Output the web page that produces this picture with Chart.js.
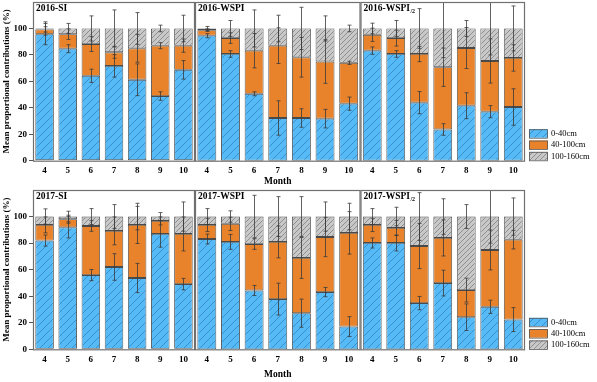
<!DOCTYPE html>
<html><head><meta charset="utf-8">
<script src="https://cdn.jsdelivr.net/npm/chart.js@4.4.0/dist/chart.umd.min.js"></script>
<style>
html,body{margin:0;padding:0;background:#fff;}
#wrap{position:relative;width:597px;height:382px;overflow:hidden;background:#fff;}
canvas{position:absolute;left:0;}
</style></head><body><div id="wrap">
<canvas id="c1" width="597" height="195" style="top:0"></canvas>
<canvas id="c2" width="597" height="195" style="top:0"></canvas>
<canvas id="c3" width="597" height="195" style="top:0"></canvas>
<canvas id="c4" width="597" height="194" style="top:188px"></canvas>
<canvas id="c5" width="597" height="194" style="top:188px"></canvas>
<canvas id="c6" width="597" height="194" style="top:188px"></canvas>
</div>
<script>
const months = ['4','5','6','7','8','9','10'];
const layerNames = ['0-40cm','40-100cm','100-160cm'];
const yTitle = 'Mean proportional contributions (%)';
const xTitle = 'Month';

// 2016-SI
const si2016_0_40    = [95.7, 84.7, 64.2, 71.7, 61.2, 48.9, 68.7];
const si2016_40_100  = [3.6, 11.0, 24.0, 10.3, 23.8, 38.1, 18.3];
const si2016_100_160 = [0.7, 4.3, 11.8, 18.0, 15.0, 13.0, 13.0];
const si2016_err_0_40    = [8, 3, 5, 8.5, 12, 3.2, 7];
const si2016_err_40_100  = [2, 4, 5.6, 4.5, 10.5, 2.3, 5];
const si2016_err_100_160 = [5, 3.8, 9.5, 14, 12, 2.5, 10];

// 2016-WSPI
const wspi2016_0_40    = [94.5, 80.7, 50.6, 32.3, 32.3, 31.8, 43.1];
const wspi2016_40_100  = [4.2, 12.0, 32.6, 54.7, 45.9, 43.2, 30.9];
const wspi2016_100_160 = [1.3, 7.3, 16.8, 13.0, 21.8, 25.0, 26.0];
const wspi2016_err_0_40    = [1.5, 2.5, 1.5, 13, 7, 7, 5];
const wspi2016_err_40_100  = [1, 4, 13, 13.5, 15, 16.5, 1.2];
const wspi2016_err_100_160 = [1.5, 6, 14, 10, 16, 9.5, 2.5];

// 2016-WSPI/2
const wspiHalf2016_0_40    = [83.2, 80.7, 43.9, 23.6, 41.6, 37.1, 40.6];
const wspiHalf2016_40_100  = [12.0, 12.0, 36.8, 47.1, 43.6, 38.3, 37.1];
const wspiHalf2016_100_160 = [4.8, 7.3, 19.3, 29.3, 14.8, 24.6, 22.3];
const wspiHalf2016_err_0_40    = [2.8, 2.5, 8.4, 4.4, 9.8, 4.6, 13.8];
const wspiHalf2016_err_40_100  = [5, 6, 5.8, 14.5, 15.5, 16.7, 10];
const wspiHalf2016_err_100_160 = [4, 6, 15, 22, 6, 20, 17];

// 2017-SI
const si2017_0_40    = [81.9, 91.9, 55.9, 62.0, 53.7, 86.9, 49.1];
const si2017_40_100  = [11.8, 6.1, 37.0, 27.2, 40.0, 9.8, 37.8];
const si2017_100_160 = [6.3, 2.0, 7.1, 10.8, 6.3, 3.3, 13.1];
const si2017_err_0_40    = [4.2, 8, 4.2, 10, 11, 10, 4.3];
const si2017_err_40_100  = [6, 3, 4, 10.5, 14, 3, 12.8];
const si2017_err_100_160 = [5.8, 4, 6, 9, 10, 3, 11];

// 2017-WSPI
const wspi2017_0_40    = [83.1, 80.9, 44.3, 37.8, 27.2, 43.1, 17.1];
const wspi2017_40_100  = [10.6, 13.6, 35.0, 43.1, 41.6, 41.5, 70.6];
const wspi2017_100_160 = [6.3, 5.5, 20.7, 19.1, 31.2, 15.4, 12.3];
const wspi2017_err_0_40    = [3.7, 5.6, 3.8, 12, 10.6, 3.5, 7.5];
const wspi2017_err_40_100  = [5, 5, 4, 12, 15.4, 14.8, 16];
const wspi2017_err_100_160 = [6, 4.3, 16, 15, 15, 11, 10];

// 2017-WSPI/2
const wspiHalf2017_0_40    = [80.1, 80.1, 34.8, 49.9, 24.2, 32.0, 22.4];
const wspiHalf2017_40_100  = [13.6, 11.3, 43.0, 34.0, 20.4, 42.8, 60.2];
const wspiHalf2017_100_160 = [6.3, 8.6, 22.2, 16.1, 55.4, 25.2, 17.4];
const wspiHalf2017_err_0_40    = [3.8, 6, 5, 9.7, 10, 5, 9];
const wspiHalf2017_err_40_100  = [5, 5.7, 17, 13.6, 9, 15, 7];
const wspiHalf2017_err_100_160 = [6, 7, 18, 13.4, 9, 20, 14];

const yTicks = [0, 20, 40, 60, 80, 100];

function hatch(bg, line, size, lw) {
  const c = document.createElement('canvas'); c.width = size; c.height = size;
  const g = c.getContext('2d');
  g.fillStyle = bg; g.fillRect(0, 0, size, size);
  g.strokeStyle = line; g.lineWidth = lw;
  g.beginPath();
  g.moveTo(0, size); g.lineTo(size, 0);
  g.moveTo(-1, 1); g.lineTo(1, -1);
  g.moveTo(size - 1, size + 1); g.lineTo(size + 1, size - 1);
  g.stroke();
  return g.createPattern(c, 'repeat');
}
const bluePat = hatch('#55BAF6', 'rgba(35,105,165,0.75)', 8, 0.7);
const grayPat = hatch('#C8C8C8', '#808080', 5, 0.8);
const orangeFill = '#E8832B';
const fills = [bluePat, orangeFill, grayPat];

const SERIF = "'Liberation Serif', 'Times New Roman', serif";

const errPlugin = {
  id: 'errBars',
  afterDatasetsDraw(chart) {
    const ctx = chart.ctx, ys = chart.scales.y, a = chart.chartArea;
    ctx.save();
    ctx.beginPath(); ctx.rect(a.left, a.top, a.right - a.left, a.bottom - a.top); ctx.clip();
    ctx.strokeStyle = '#3a3a3a'; ctx.lineWidth = 0.8;
    chart.data.datasets.forEach((ds, d) => {
      const meta = chart.getDatasetMeta(d);
      meta.data.forEach((el, i) => {
        let top = 0;
        for (let k = 0; k <= d; k++) top += chart.data.datasets[k].data[i];
        const e = ds.errors[i];
        const y1 = ys.getPixelForValue(top + e), y2 = ys.getPixelForValue(top - e);
        const x = Math.round(el.x) + 0.5;
        ctx.beginPath();
        ctx.moveTo(x, y1); ctx.lineTo(x, y2);
        ctx.moveTo(x - 2, y1); ctx.lineTo(x + 2, y1);
        ctx.moveTo(x - 2, y2); ctx.lineTo(x + 2, y2);
        ctx.stroke();
      });
    });
    ctx.restore();
  }
};

const framePlugin = {
  id: 'frame',
  afterDraw(chart, args, opts) {
    const ctx = chart.ctx, a = chart.chartArea;
    ctx.save();
    ctx.strokeStyle = '#707070'; ctx.lineWidth = 1.2;
    ctx.strokeRect(a.left + 0.5, a.top + 0.5, a.right - a.left - 1, a.bottom - a.top);
    // panel label
    ctx.fillStyle = '#000';
    ctx.textBaseline = 'middle'; ctx.textAlign = 'left';
    ctx.font = 'bold 9.5px ' + SERIF;
    const x0 = a.left + 3, y0 = a.top + 6.5;
    ctx.fillText(opts.text, x0, y0);
    if (opts.sub) {
      const w = ctx.measureText(opts.text).width;
      ctx.font = 'bold 6px ' + SERIF;
      ctx.fillText(opts.sub, x0 + w + 0.5, y0 + 3);
    }
    // legend
    if (opts.legend) {
      const bx = a.right + 4, bw = 19, bh = 8.5, step = 11.3;
      const by0 = a.bottom - 31.5;
      ctx.font = '8.5px ' + SERIF;
      chart.data.datasets.forEach((ds, i) => {
        const y = by0 + i * step;
        ctx.fillStyle = ds.backgroundColor;
        ctx.fillRect(bx, y, bw, bh);
        ctx.strokeStyle = '#555'; ctx.lineWidth = 0.8;
        ctx.strokeRect(bx + 0.5, y + 0.5, bw - 1, bh);
        ctx.fillStyle = '#000';
        ctx.fillText(ds.label, bx + bw + 3, y + bh / 2 + 0.5);
      });
    }
    ctx.restore();
  }
};

function makeChart(id, series, errs, cfg) {
  const datasets = series.map((d, i) => ({
    label: layerNames[i], data: d, errors: errs[i],
    backgroundColor: fills[i], borderColor: '#4a4a4a', borderWidth: 0.9,
    borderSkipped: false, barPercentage: 0.8, categoryPercentage: 1.0
  }));
  return new Chart(document.getElementById(id), {
    type: 'bar',
    data: { labels: months, datasets },
    plugins: [errPlugin, framePlugin],
    options: {
      responsive: false, animation: false, devicePixelRatio: 1,
      layout: { padding: { left: cfg.left, right: cfg.right, top: 2, bottom: 0 } },
      plugins: {
        legend: { display: false }, tooltip: { enabled: false },
        frame: { text: cfg.title, sub: cfg.sub, legend: cfg.legend }
      },
      scales: {
        x: {
          stacked: true,
          grid: { display: false, drawTicks: false },
          border: { display: false },
          ticks: { color: '#000', font: { family: SERIF, size: 9, weight: 'bold' }, padding: 5, maxRotation: 0, autoSkip: false },
          title: { display: cfg.month, text: xTitle, color: '#000', font: { family: SERIF, size: 9.5, weight: 'bold' }, padding: { top: 0, bottom: cfg.monthPad } },
          afterFit(s) { s.height = cfg.xh; s.paddingLeft = 0; s.paddingRight = 0; }
        },
        y: {
          stacked: true, min: 0, max: 120, display: cfg.yaxis,
          grid: { drawOnChartArea: false, drawTicks: true, tickLength: 4, color: '#555' },
          border: { display: false },
          ticks: { stepSize: 20, color: '#000', font: { family: SERIF, size: 9, weight: 'bold' }, padding: 2 },
          title: { display: true, text: yTitle, color: '#000', font: { family: SERIF, size: 9, weight: 'bold' }, padding: { top: 1.6, bottom: 0 } },
          afterBuildTicks(s) { s.ticks = yTicks.map(v => ({ value: v })); },
          afterFit(s) {
            s.width = cfg.yaxis ? 33 : 0;
            s.paddingTop = 0; s.paddingBottom = 0;
          }
        }
      }
    }
  });
}

const rowTop = { xh: 34.3, monthPad: 8 };
const rowBot = { xh: 32.7, monthPad: 1.6 };

makeChart('c1', [si2016_0_40, si2016_40_100, si2016_100_160],
  [si2016_err_0_40, si2016_err_40_100, si2016_err_100_160],
  Object.assign({ left: 0, right: 402, title: '2016-SI', yaxis: true, month: false, legend: false }, rowTop));
makeChart('c2', [wspi2016_0_40, wspi2016_40_100, wspi2016_100_160],
  [wspi2016_err_0_40, wspi2016_err_40_100, wspi2016_err_100_160],
  Object.assign({ left: 195, right: 236.5, title: '2016-WSPI', yaxis: false, month: true, legend: false }, rowTop));
makeChart('c3', [wspiHalf2016_0_40, wspiHalf2016_40_100, wspiHalf2016_100_160],
  [wspiHalf2016_err_0_40, wspiHalf2016_err_40_100, wspiHalf2016_err_100_160],
  Object.assign({ left: 360.5, right: 72, title: '2016-WSPI', sub: '/2', yaxis: false, month: false, legend: true }, rowTop));
makeChart('c4', [si2017_0_40, si2017_40_100, si2017_100_160],
  [si2017_err_0_40, si2017_err_40_100, si2017_err_100_160],
  Object.assign({ left: 0, right: 402, title: '2017-SI', yaxis: true, month: false, legend: false }, rowBot));
makeChart('c5', [wspi2017_0_40, wspi2017_40_100, wspi2017_100_160],
  [wspi2017_err_0_40, wspi2017_err_40_100, wspi2017_err_100_160],
  Object.assign({ left: 195, right: 236.5, title: '2017-WSPI', yaxis: false, month: true, legend: false }, rowBot));
makeChart('c6', [wspiHalf2017_0_40, wspiHalf2017_40_100, wspiHalf2017_100_160],
  [wspiHalf2017_err_0_40, wspiHalf2017_err_40_100, wspiHalf2017_err_100_160],
  Object.assign({ left: 360.5, right: 72, title: '2017-WSPI', sub: '/2', yaxis: false, month: false, legend: true }, rowBot));
</script>
</body></html>
